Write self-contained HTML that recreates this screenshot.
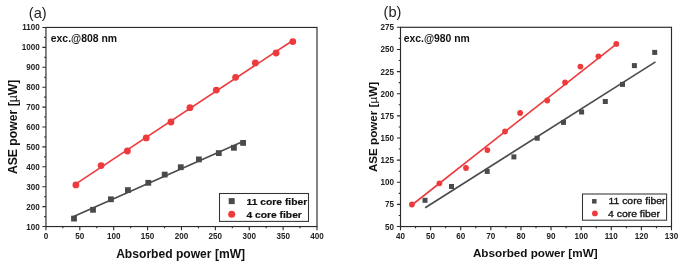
<!DOCTYPE html>
<html><head><meta charset="utf-8"><style>
html,body{margin:0;padding:0;background:#fff;width:685px;height:265px;overflow:hidden}
svg{display:block;will-change:transform}
</style></head><body>
<svg width="685" height="265" viewBox="0 0 685 265">
<rect width="685" height="265" fill="#fff"/>
<rect x="45.95" y="27.45" width="271.05" height="199.1" fill="none" stroke="#2a2a2a" stroke-width="1.15"/><path d="M45.95 226.55V230.15M62.89 226.55V228.35M79.83 226.55V230.15M96.77 226.55V228.35M113.71 226.55V230.15M130.65 226.55V228.35M147.59 226.55V230.15M164.53 226.55V228.35M181.48 226.55V230.15M198.42 226.55V228.35M215.36 226.55V230.15M232.3 226.55V228.35M249.24 226.55V230.15M266.18 226.55V228.35M283.12 226.55V230.15M300.06 226.55V228.35M317 226.55V230.15M45.95 226.55H42.35M45.95 216.59H44.15M45.95 206.64H42.35M45.95 196.69H44.15M45.95 186.73H42.35M45.95 176.78H44.15M45.95 166.82H42.35M45.95 156.87H44.15M45.95 146.91H42.35M45.95 136.95H44.15M45.95 127H42.35M45.95 117.04H44.15M45.95 107.09H42.35M45.95 97.13H44.15M45.95 87.18H42.35M45.95 77.22H44.15M45.95 67.27H42.35M45.95 57.31H44.15M45.95 47.36H42.35M45.95 37.41H44.15M45.95 27.45H42.35" stroke="#2a2a2a" stroke-width="1.1" fill="none"/><g style='font-family:"Liberation Sans",sans-serif;font-weight:bold;font-size:8.1px' fill="#222"><text transform="translate(45.95 239) scale(1 1.15)" text-anchor="middle">0</text><text transform="translate(79.83 239) scale(1 1.15)" text-anchor="middle">50</text><text transform="translate(113.71 239) scale(1 1.15)" text-anchor="middle">100</text><text transform="translate(147.59 239) scale(1 1.15)" text-anchor="middle">150</text><text transform="translate(181.48 239) scale(1 1.15)" text-anchor="middle">200</text><text transform="translate(215.36 239) scale(1 1.15)" text-anchor="middle">250</text><text transform="translate(249.24 239) scale(1 1.15)" text-anchor="middle">300</text><text transform="translate(283.12 239) scale(1 1.15)" text-anchor="middle">350</text><text transform="translate(317 239) scale(1 1.15)" text-anchor="middle">400</text><text transform="translate(39.8 229.5) scale(1 1.15)" text-anchor="end">100</text><text transform="translate(39.8 209.59) scale(1 1.15)" text-anchor="end">200</text><text transform="translate(39.8 189.68) scale(1 1.15)" text-anchor="end">300</text><text transform="translate(39.8 169.77) scale(1 1.15)" text-anchor="end">400</text><text transform="translate(39.8 149.86) scale(1 1.15)" text-anchor="end">500</text><text transform="translate(39.8 129.95) scale(1 1.15)" text-anchor="end">600</text><text transform="translate(39.8 110.04) scale(1 1.15)" text-anchor="end">700</text><text transform="translate(39.8 90.13) scale(1 1.15)" text-anchor="end">800</text><text transform="translate(39.8 70.22) scale(1 1.15)" text-anchor="end">900</text><text transform="translate(39.8 50.31) scale(1 1.15)" text-anchor="end">1000</text><text transform="translate(39.8 30.4) scale(1 1.15)" text-anchor="end">1100</text></g>
<rect x="400.5" y="27.3" width="271" height="199.25" fill="none" stroke="#2a2a2a" stroke-width="1.15"/><path d="M400.5 226.55V230.15M415.56 226.55V228.35M430.61 226.55V230.15M445.67 226.55V228.35M460.72 226.55V230.15M475.78 226.55V228.35M490.83 226.55V230.15M505.89 226.55V228.35M520.94 226.55V230.15M536 226.55V228.35M551.06 226.55V230.15M566.11 226.55V228.35M581.17 226.55V230.15M596.22 226.55V228.35M611.28 226.55V230.15M626.33 226.55V228.35M641.39 226.55V230.15M656.44 226.55V228.35M671.5 226.55V230.15M400.5 226.55H396.9M400.5 215.48H398.7M400.5 204.41H396.9M400.5 193.34H398.7M400.5 182.27H396.9M400.5 171.2H398.7M400.5 160.13H396.9M400.5 149.06H398.7M400.5 137.99H396.9M400.5 126.93H398.7M400.5 115.86H396.9M400.5 104.79H398.7M400.5 93.72H396.9M400.5 82.65H398.7M400.5 71.58H396.9M400.5 60.51H398.7M400.5 49.44H396.9M400.5 38.37H398.7M400.5 27.3H396.9" stroke="#2a2a2a" stroke-width="1.1" fill="none"/><g style='font-family:"Liberation Sans",sans-serif;font-weight:bold;font-size:8.1px' fill="#222"><text transform="translate(400.5 239) scale(1 1.15)" text-anchor="middle">40</text><text transform="translate(430.61 239) scale(1 1.15)" text-anchor="middle">50</text><text transform="translate(460.72 239) scale(1 1.15)" text-anchor="middle">60</text><text transform="translate(490.83 239) scale(1 1.15)" text-anchor="middle">70</text><text transform="translate(520.94 239) scale(1 1.15)" text-anchor="middle">80</text><text transform="translate(551.06 239) scale(1 1.15)" text-anchor="middle">90</text><text transform="translate(581.17 239) scale(1 1.15)" text-anchor="middle">100</text><text transform="translate(611.28 239) scale(1 1.15)" text-anchor="middle">110</text><text transform="translate(641.39 239) scale(1 1.15)" text-anchor="middle">120</text><text transform="translate(671.5 239) scale(1 1.15)" text-anchor="middle">130</text><text transform="translate(394 229.5) scale(1 1.15)" text-anchor="end">50</text><text transform="translate(394 207.36) scale(1 1.15)" text-anchor="end">75</text><text transform="translate(394 185.22) scale(1 1.15)" text-anchor="end">100</text><text transform="translate(394 163.08) scale(1 1.15)" text-anchor="end">125</text><text transform="translate(394 140.94) scale(1 1.15)" text-anchor="end">150</text><text transform="translate(394 118.81) scale(1 1.15)" text-anchor="end">175</text><text transform="translate(394 96.67) scale(1 1.15)" text-anchor="end">200</text><text transform="translate(394 74.53) scale(1 1.15)" text-anchor="end">225</text><text transform="translate(394 52.39) scale(1 1.15)" text-anchor="end">250</text><text transform="translate(394 30.25) scale(1 1.15)" text-anchor="end">275</text></g>
<line x1="72.5" y1="216.9" x2="244" y2="141" stroke="#4a4a4a" stroke-width="1.6"/>
<line x1="75.9" y1="183.9" x2="292.8" y2="40.5" stroke="#ec3a3d" stroke-width="1.6"/>
<line x1="425.2" y1="207.7" x2="655.5" y2="61.9" stroke="#4a4a4a" stroke-width="1.6"/>
<line x1="411.9" y1="205" x2="616.3" y2="44.1" stroke="#ec3a3d" stroke-width="1.6"/>
<rect x="71.1" y="215.7" width="5.8" height="5.8" fill="#4a4a4a"/><rect x="90.1" y="206.9" width="5.8" height="5.8" fill="#4a4a4a"/><rect x="108" y="196.4" width="5.8" height="5.8" fill="#4a4a4a"/><rect x="125" y="187.2" width="5.8" height="5.8" fill="#4a4a4a"/><rect x="145.4" y="179.9" width="5.8" height="5.8" fill="#4a4a4a"/><rect x="161.8" y="171.7" width="5.8" height="5.8" fill="#4a4a4a"/><rect x="177.9" y="164.3" width="5.8" height="5.8" fill="#4a4a4a"/><rect x="196" y="156.5" width="5.8" height="5.8" fill="#4a4a4a"/><rect x="215.9" y="150.2" width="5.8" height="5.8" fill="#4a4a4a"/><rect x="231" y="144.9" width="5.8" height="5.8" fill="#4a4a4a"/><rect x="240.2" y="140" width="5.8" height="5.8" fill="#4a4a4a"/>
<circle cx="75.9" cy="184.9" r="3.4" fill="#ec3a3d"/><circle cx="101.1" cy="165.6" r="3.4" fill="#ec3a3d"/><circle cx="127.4" cy="151" r="3.4" fill="#ec3a3d"/><circle cx="146.2" cy="137.9" r="3.4" fill="#ec3a3d"/><circle cx="171" cy="122" r="3.4" fill="#ec3a3d"/><circle cx="189.9" cy="107.7" r="3.4" fill="#ec3a3d"/><circle cx="216.3" cy="90.1" r="3.4" fill="#ec3a3d"/><circle cx="235.6" cy="77.3" r="3.4" fill="#ec3a3d"/><circle cx="255.3" cy="62.9" r="3.4" fill="#ec3a3d"/><circle cx="276.1" cy="53" r="3.4" fill="#ec3a3d"/><circle cx="292.8" cy="41.6" r="3.4" fill="#ec3a3d"/>
<rect x="422.5" y="197.8" width="5" height="5" fill="#4a4a4a"/><rect x="449" y="184" width="5" height="5" fill="#4a4a4a"/><rect x="484.7" y="168.9" width="5" height="5" fill="#4a4a4a"/><rect x="511.4" y="154.4" width="5" height="5" fill="#4a4a4a"/><rect x="534.7" y="135.7" width="5" height="5" fill="#4a4a4a"/><rect x="561" y="119.9" width="5" height="5" fill="#4a4a4a"/><rect x="579.1" y="109.5" width="5" height="5" fill="#4a4a4a"/><rect x="602.8" y="99" width="5" height="5" fill="#4a4a4a"/><rect x="620" y="81.9" width="5" height="5" fill="#4a4a4a"/><rect x="631.9" y="63.1" width="5" height="5" fill="#4a4a4a"/><rect x="652.2" y="49.9" width="5" height="5" fill="#4a4a4a"/>
<circle cx="411.9" cy="204.5" r="2.9" fill="#ec3a3d"/><circle cx="439.4" cy="183.3" r="2.9" fill="#ec3a3d"/><circle cx="466" cy="168" r="2.9" fill="#ec3a3d"/><circle cx="487.4" cy="150.1" r="2.9" fill="#ec3a3d"/><circle cx="505" cy="131.5" r="2.9" fill="#ec3a3d"/><circle cx="520.1" cy="113" r="2.9" fill="#ec3a3d"/><circle cx="547.2" cy="100.5" r="2.9" fill="#ec3a3d"/><circle cx="565.1" cy="82.5" r="2.9" fill="#ec3a3d"/><circle cx="580.4" cy="66.6" r="2.9" fill="#ec3a3d"/><circle cx="598.4" cy="56.3" r="2.9" fill="#ec3a3d"/><circle cx="616.3" cy="43.9" r="2.9" fill="#ec3a3d"/>
<rect x="219.5" y="193.5" width="89" height="27.9" fill="#fff" stroke="#333" stroke-width="1.05"/>
<rect x="228.7" y="198.1" width="6" height="6" fill="#4a4a4a"/>
<circle cx="231.7" cy="214.2" r="3.5" fill="#ec3a3d"/>
<g style='font-family:"Liberation Sans",sans-serif;font-weight:bold;font-size:10.3px' fill="#111" stroke="#111" stroke-width="0.2"><text transform="translate(246.6 204.8) scale(1 0.85)">11 core fiber</text><text transform="translate(246.4 217.9) scale(1 0.85)">4 core fiber</text></g>
<rect x="582.5" y="194" width="84.1" height="26.2" fill="#fff" stroke="#333" stroke-width="1.05"/>
<rect x="592.05" y="199.05" width="4.5" height="4.5" fill="#4a4a4a"/>
<circle cx="594.9" cy="213.4" r="2.85" fill="#ec3a3d"/>
<g style='font-family:"Liberation Sans",sans-serif;font-size:10.4px' fill="#111" stroke="#111" stroke-width="0.35"><text transform="translate(608.5 204.4) scale(1 0.81)">11 core fiber</text><text transform="translate(608.1 217) scale(1 0.81)">4 core fiber</text></g>
<g style='font-family:"Liberation Sans",sans-serif;font-weight:bold;font-size:10.4px' fill="#111"><text x="50.8" y="41.8">exc.@808 nm</text><text x="403.7" y="42.2">exc.@980 nm</text></g>
<g style='font-family:"Liberation Sans",sans-serif;font-size:14.6px' fill="#222"><text x="28.8" y="18.3">(a)</text><text x="383.6" y="17.1">(b)</text></g>
<g style='font-family:"Liberation Sans",sans-serif;font-weight:bold' fill="#111">
<text x="180.65" y="257.5" text-anchor="middle" font-size="12.1">Absorbed power [mW]</text>
<text x="535.25" y="257.1" text-anchor="middle" font-size="11.7">Absorbed power [mW]</text>
<text transform="translate(16.9 126.9) rotate(-90)" text-anchor="middle" font-size="12.2">ASE power [<tspan font-weight="normal">µ</tspan>W]</text>
<text transform="translate(376.5 127) rotate(-90)" text-anchor="middle" font-size="11.65">ASE power [<tspan font-weight="normal">µ</tspan>W]</text>
</g>
</svg>
</body></html>
